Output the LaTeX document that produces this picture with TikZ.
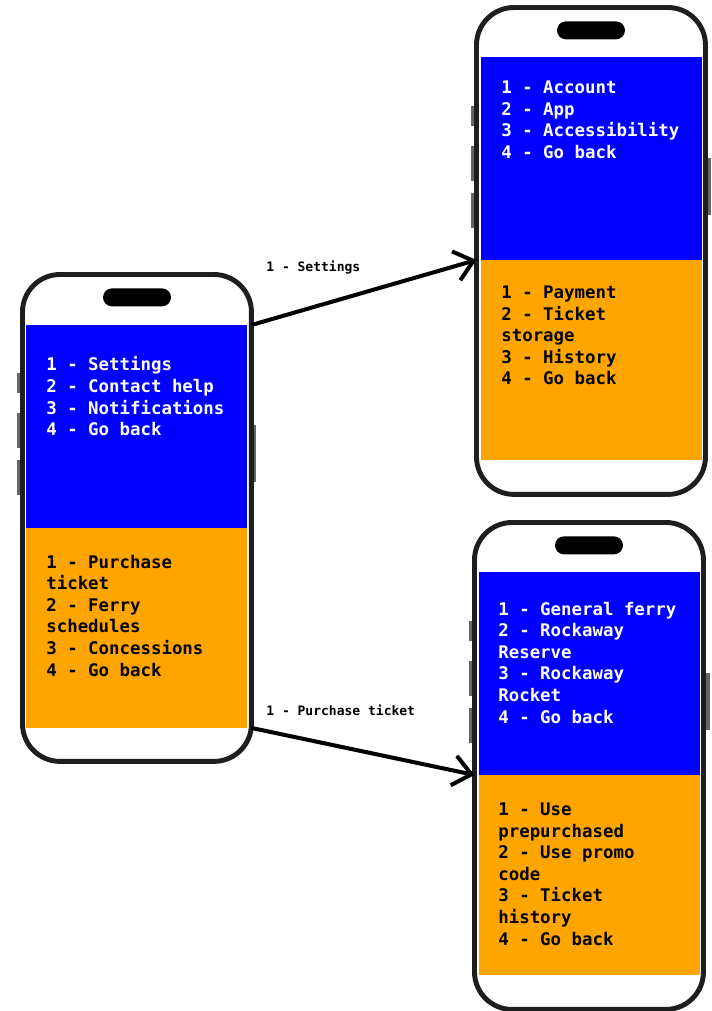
\documentclass[tikz,border=0pt]{standalone}
\usepackage{xcolor}
\usepackage{fontspec}
\setmonofont{DejaVu Sans Mono}
\usepackage{tikz}
\usetikzlibrary{positioning}
\usetikzlibrary{arrows.meta}
\definecolor{screenblue}{HTML}{0000FF}
\definecolor{screenorange}{HTML}{FFA500}
\definecolor{framegray}{HTML}{1E1E1E}
\tikzstyle{phone} = [rectangle, draw=framegray, line width=2.8pt, rounded corners=0.75cm, fill=white, minimum width=4.58cm, minimum height=9.74cm, anchor=north west, inner sep=0, outer sep=0]
\tikzstyle{bluescreen} = [rectangle, fill=screenblue, minimum width=4.42cm, minimum height=4.06cm, anchor=north west, inner sep=0, outer sep=0]
\tikzstyle{orangescreen} = [rectangle, fill=screenorange, minimum width=4.42cm, minimum height=4.0cm, inner sep=0, outer sep=0]
\tikzstyle{island} = [rectangle, fill=black, rounded corners=0.18cm, minimum width=1.36cm, minimum height=0.36cm, inner sep=0]
\tikzstyle{button} = [fill=black!60]
\tikzstyle{menu} = [align=left, anchor=north west, inner sep=0, font=\ttfamily\bfseries\fontsize{9.9}{12.3}\selectfont]
\tikzstyle{choice} = [anchor=west, inner sep=0, font=\ttfamily\bfseries\fontsize{7.4}{9}\selectfont]
\tikzstyle{arrow} = [draw, line width=2.3pt, -{Straight Barb[length=0.36cm, width=0.6cm]}]

\begin{document}
\begin{tikzpicture}[x=0.02cm, y=-0.02cm]
\useasboundingbox (0,0) rectangle (712,1011);

%% side buttons
\fill[button] (17,373) rectangle (21,393);
\fill[button] (17,413) rectangle (21,448);
\fill[button] (17,460) rectangle (21,495);
\fill[button] (252,425) rectangle (256,482);
\fill[button] (471,106) rectangle (475,126);
\fill[button] (471,146) rectangle (475,181);
\fill[button] (471,193) rectangle (475,228);
\fill[button] (707,158) rectangle (711,215);
\fill[button] (469,621) rectangle (473,641);
\fill[button] (469,661) rectangle (473,696);
\fill[button] (469,708) rectangle (473,743);
\fill[button] (706,673) rectangle (710,730);

%% main menu
\node[phone] at (22.5,274.5) (left) {};
\node[bluescreen] at (26,325) (lblue) {};
\node[orangescreen, below=0pt of lblue] (lorange) {};
\node[island, below=0.27cm of left.north] (lisland) {};
\node[menu, white] at (46,356.5) (lbluetext) {1 - Settings\\2 - Contact help\\3 - Notifications\\4 - Go back};
\node[menu, black] at (46,554.5) (lorangetext) {1 - Purchase\\ticket\\2 - Ferry\\schedules\\3 - Concessions\\4 - Go back};

%% settings
\node[phone] at (476.5,7.5) (tr) {};
\node[bluescreen] at (481,57) (trblue) {};
\node[orangescreen, below=0pt of trblue] (trorange) {};
\node[island, below=0.27cm of tr.north] (trisland) {};
\node[menu, white] at (501,80.5) (trbluetext) {1 - Account\\2 - App\\3 - Accessibility\\4 - Go back};
\node[menu, black] at (501,285.5) (trorangetext) {1 - Payment\\2 - Ticket\\storage\\3 - History\\4 - Go back};

%% purchase ticket
\node[phone] at (474.5,522.5) (br) {};
\node[bluescreen] at (479,572) (brblue) {};
\node[orangescreen, below=0pt of brblue] (brorange) {};
\node[island, below=0.27cm of br.north] (brisland) {};
\node[menu, white] at (498,601.5) (brbluetext) {1 - General ferry\\2 - Rockaway\\Reserve\\3 - Rockaway\\Rocket\\4 - Go back};
\node[menu, black] at (498,802.5) (brorangetext) {1 - Use\\prepurchased\\2 - Use promo\\code\\3 - Ticket\\history\\4 - Go back};

%% transitions
\node[choice] at (266,268) (settings) {1 - Settings};
\path[arrow] (lblue.north east -| left.east) to (trorange.north west -| tr.west);

\node[choice] at (266,710) (purchase) {1 - Purchase ticket};
\path[arrow] (lorange.south east -| left.east) to (brorange.north west -| br.west);

\end{tikzpicture}
\end{document}
